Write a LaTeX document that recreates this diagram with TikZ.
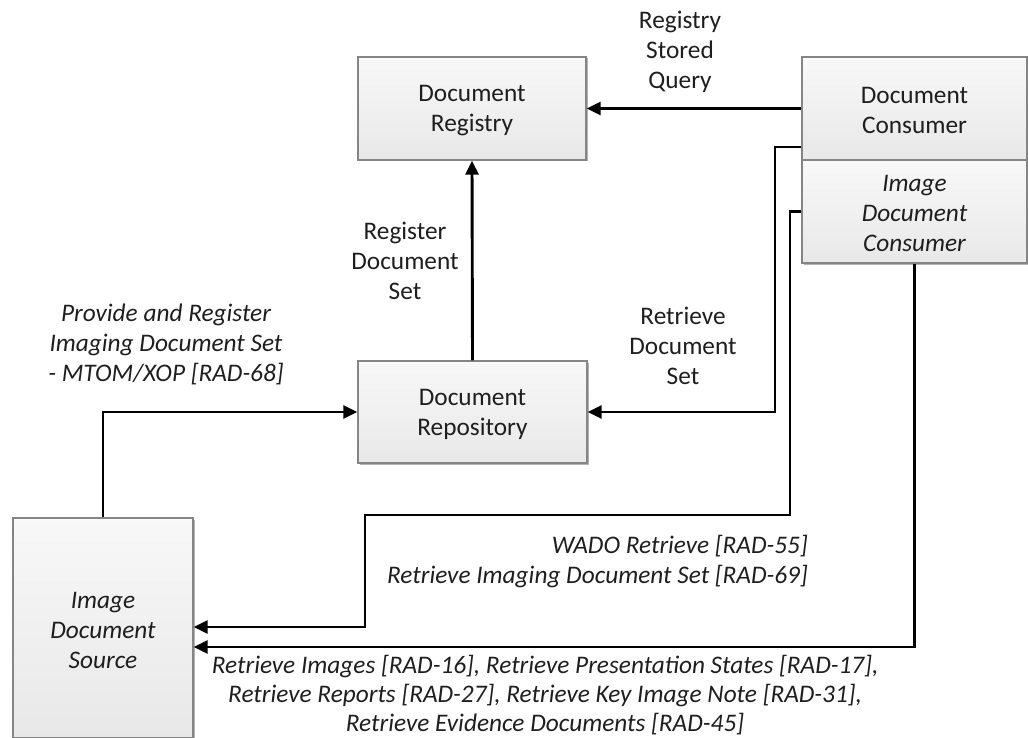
\documentclass[tikz,border=0pt]{standalone}
\usepackage{fontspec}
\setmainfont{Carlito}
\usetikzlibrary{arrows.meta,shadows}
\definecolor{boxline}{HTML}{858585}
\definecolor{boxtop}{HTML}{F8F8F8}
\definecolor{boxbot}{HTML}{E8E8E8}
\definecolor{ink}{HTML}{1E1E1E}
\tikzset{
  actor/.style={draw=boxline, line width=1.3pt, top color=boxtop, bottom color=boxbot,
    drop shadow={shadow xshift=1.5pt, shadow yshift=-1.5pt, opacity=0.3, fill=black},
    align=center, text=ink, inner sep=0pt},
  flow/.style={line width=2.9pt, -{Triangle[length=14pt,width=13pt]}},
  lbl/.style={align=center, text=ink, inner sep=0pt},
  txt/.style={font=\fontsize{25.3}{30}\selectfont},
  itxt/.style={font=\fontsize{25.3}{30}\selectfont\itshape},
}
\begin{document}
\begin{tikzpicture}[x=1pt,y=-1pt, every node/.style={txt}]
\useasboundingbox (0,0) rectangle (1028,738);

% actors
\node[actor, minimum width=228pt, minimum height=103pt] (reg) at (472,108.5) {\strut Document\\Registry};
\node[actor, minimum width=229pt, minimum height=102pt] (rep) at (472.5,412) {\strut Document\\Repository};
\node[actor, minimum width=225pt, minimum height=103pt] (dc) at (914.5,108.5) {\strut Document\\Consumer};
\node[actor, itxt, minimum width=225pt, minimum height=103pt] (idc) at (914.5,211.5) {\strut Image\\Document\\Consumer};
\node[actor, itxt, minimum width=180pt, minimum height=220pt] (src) at (103,628) {\strut Image\\Document\\Source};

% bends of the routed connectors
\coordinate (b1) at (775,147);
\coordinate (b2) at (790,515);
\coordinate (b3) at (365,515);

% connectors
\draw[flow] (dc.west) -- (reg.east);
\draw[flow] (rep.north) -- (reg.south);
\draw[flow] (src.north) |- (rep.west);
\draw[flow] (dc.west |- b1) -- (b1) |- (rep.east);
\draw[flow] (idc.west) -| (b2) -- (b3) |- ([yshift=1pt]src.east);
\draw[flow] (idc.south) |- ([yshift=-19pt]src.east);

% transaction labels
\node[lbl] (q1) at (680,50.5) {\strut Registry\\Stored\\Query};
\node[lbl] (q2) at (405,259) {\strut Register\\Document\\Set};
\node[lbl] (q3) at (683,344.5) {\strut Retrieve\\Document\\Set};
\node[lbl, itxt] (q4) at (166,343) {\strut Provide and Register\\Imaging Document Set\\- MTOM/XOP [RAD-68]};
\node[lbl, itxt, align=right, anchor=east] (q5) at (808,560) {\strut WADO Retrieve [RAD-55]\\Retrieve Imaging Document Set [RAD-69]};
\node[lbl, font=\fontsize{25.3}{29}\selectfont\itshape] (q6) at (545,694.5) {\strut Retrieve Images [RAD-16], Retrieve Presentation States [RAD-17],\\Retrieve Reports [RAD-27], Retrieve Key Image Note [RAD-31],\\Retrieve Evidence Documents [RAD-45]};
\end{tikzpicture}
\end{document}
